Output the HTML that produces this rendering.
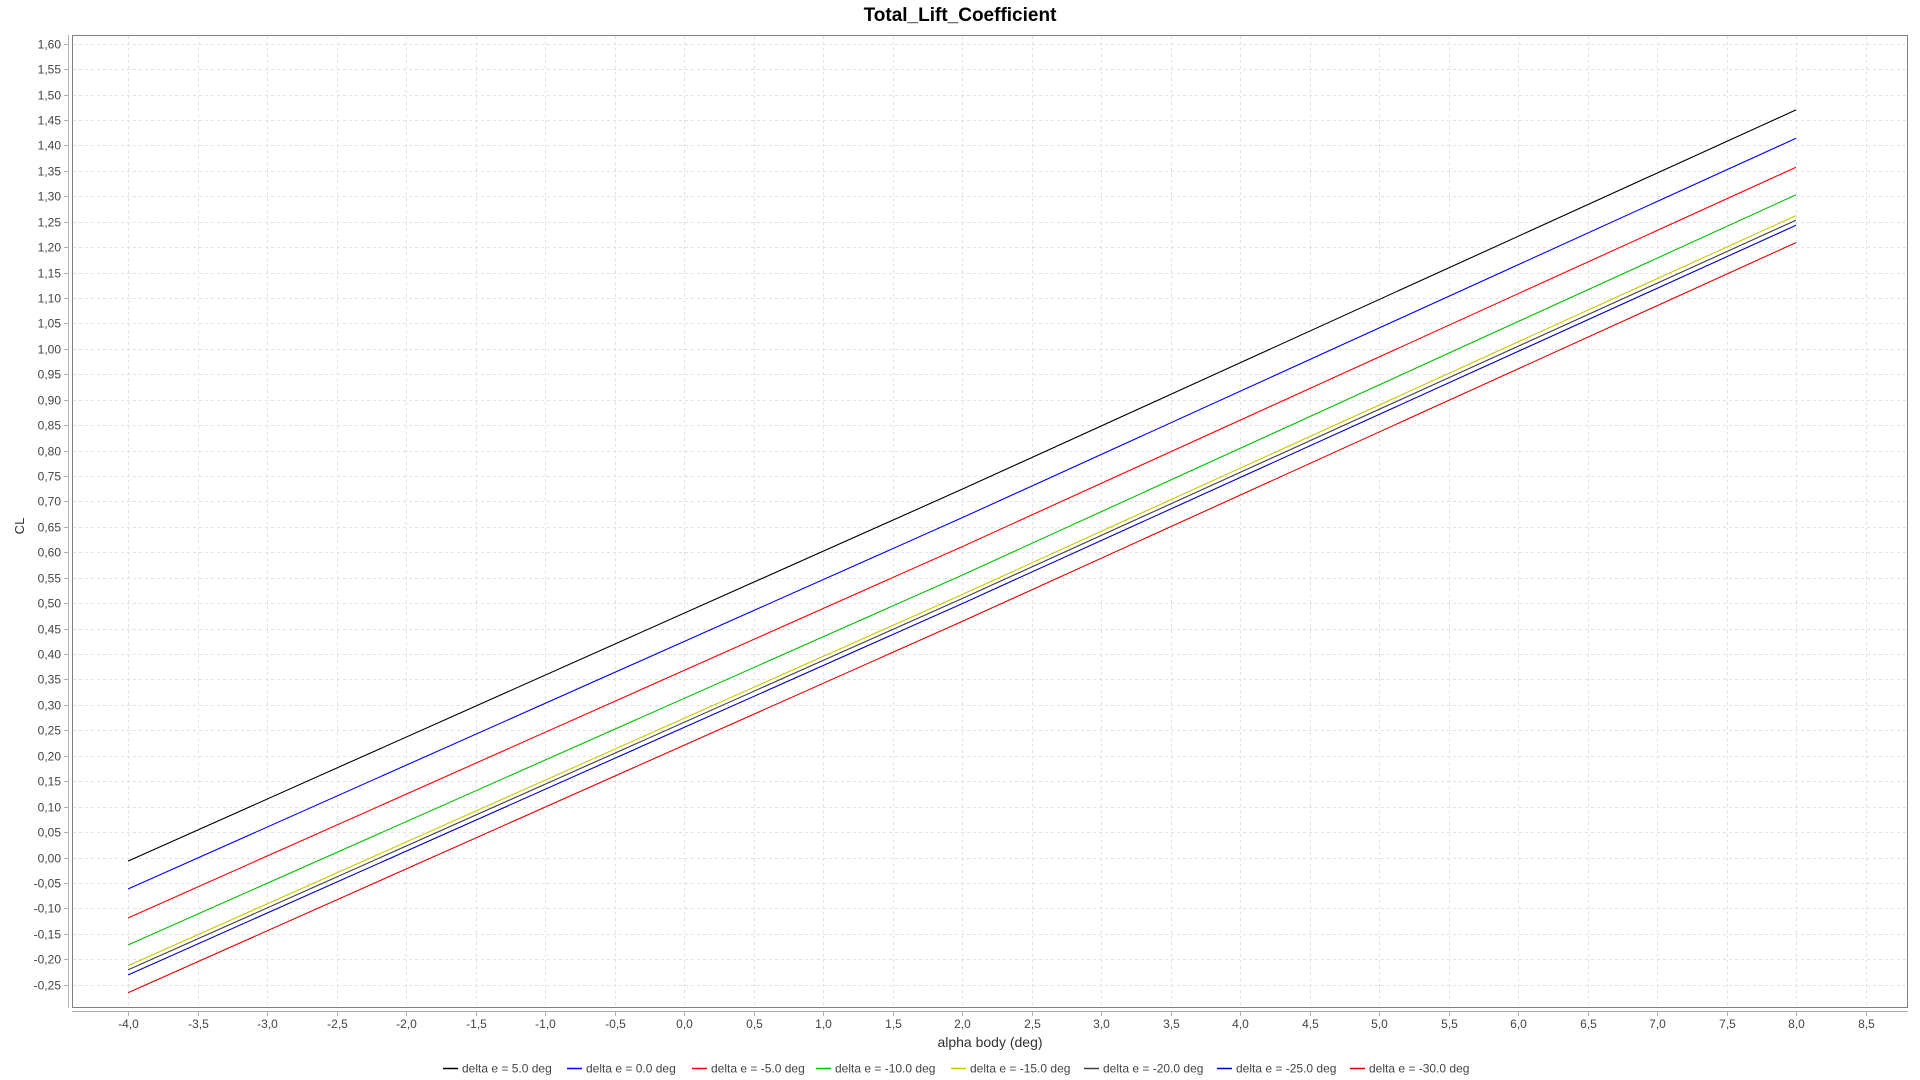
<!DOCTYPE html>
<html><head><meta charset="utf-8">
<style>
html,body{margin:0;padding:0;background:#fff;}
svg{display:block;font-family:"Liberation Sans","DejaVu Sans",sans-serif;}
</style></head>
<body>
<svg id="chart" width="1920" height="1080" viewBox="0 0 1920 1080" xmlns="http://www.w3.org/2000/svg">
<rect width="1920" height="1080" fill="#fff"/>
<text x="960" y="21" text-anchor="middle" font-size="19" font-weight="bold" fill="#000">Total_Lift_Coefficient</text>
<g id="grid"></g>
<rect x="72.5" y="35.5" width="1835" height="972" fill="none" stroke="#808080" stroke-width="1"/>
<line x1="68.5" y1="35" x2="68.5" y2="1008" stroke="#b0b0b0"/>
<line x1="72" y1="1011.5" x2="1908" y2="1011.5" stroke="#b0b0b0"/>
<g id="yticks"></g>
<g id="xticks"></g>
<g id="series"></g>
<text transform="translate(24,526) rotate(-90)" text-anchor="middle" font-size="13" fill="#333">CL</text>
<text x="990" y="1047" text-anchor="middle" font-size="14" fill="#333">alpha body (deg)</text>
<g id="legend"></g>
</svg>
<script>
const xTickValues = [-4,-3.5,-3,-2.5,-2,-1.5,-1,-0.5,0,0.5,1,1.5,2,2.5,3,3.5,4,4.5,5,5.5,6,6.5,7,7.5,8,8.5];
const yTickValues = [-0.25,-0.2,-0.15,-0.1,-0.05,0,0.05,0.1,0.15,0.2,0.25,0.3,0.35,0.4,0.45,0.5,0.55,0.6,0.65,0.7,0.75,0.8,0.85,0.9,0.95,1.0,1.05,1.1,1.15,1.2,1.25,1.3,1.35,1.4,1.45,1.5,1.55,1.6];
const alphaValues = [-4, 2, 8];
const seriesNames = ["delta e = 5.0 deg","delta e = 0.0 deg","delta e = -5.0 deg","delta e = -10.0 deg","delta e = -15.0 deg","delta e = -20.0 deg","delta e = -25.0 deg","delta e = -30.0 deg"];
const seriesColors = ["#000000","#0000ff","#ff0000","#00c000","#c8c800","#404040","#0000c0","#e00000"];
const clDe5 = [-0.007, 0.724, 1.470];
const clDe0 = [-0.062, 0.668, 1.414];
const clDeM5 = [-0.119, 0.611, 1.357];
const clDeM10 = [-0.172, 0.555, 1.303];
const clDeM15 = [-0.213, 0.517, 1.262];
const clDeM20 = [-0.221, 0.509, 1.253];
const clDeM25 = [-0.231, 0.499, 1.243];
const clDeM30 = [-0.266, 0.464, 1.209];
const seriesValues = [clDe5, clDe0, clDeM5, clDeM10, clDeM15, clDeM20, clDeM25, clDeM30];

const NS = "http://www.w3.org/2000/svg";
function xScale(v){ return 128 + (v + 4) * 139; }
function yScale(v){ return 857.5 - v * 508.6; }
function fmt(v, d){ return v.toFixed(d).replace('.', ','); }
function mk(tag, attrs, parent){ const e = document.createElementNS(NS, tag); for (const k in attrs) e.setAttribute(k, attrs[k]); parent.appendChild(e); return e; }

const grid = document.getElementById('grid');
const yt = document.getElementById('yticks');
const xt = document.getElementById('xticks');
yTickValues.forEach(v => {
  const y = Math.round(yScale(v)) + 0.5;
  const gl = mk('line', {x1:73, x2:1907, y1:y, y2:y, stroke:'#e2e2e2', 'stroke-dasharray':'3,3'}, grid);
  
  
  const tk = mk('line', {x1:64, x2:68, y1:y, y2:y, stroke:'#b0b0b0'}, yt);
  
  
  const t = mk('text', {x:61, y:y+4, 'text-anchor':'end', 'font-size':'12', fill:'#444'}, yt);
  
  
  t.textContent = fmt(v, 2);
});
xTickValues.forEach(v => {
  const x = Math.round(xScale(v)) + 0.5;
  const gl = mk('line', {x1:x, x2:x, y1:36, y2:1007, stroke:'#e2e2e2', 'stroke-dasharray':'3,3'}, grid);
  
  
  const tk = mk('line', {x1:x, x2:x, y1:1012, y2:1016, stroke:'#b0b0b0'}, xt);
  
  
  const t = mk('text', {x:x, y:1028, 'text-anchor':'middle', 'font-size':'12', fill:'#444'}, xt);
  
  
  t.textContent = fmt(v, 1);
});

const sg = document.getElementById('series');
seriesValues.forEach((vals, i) => {
  const pts = vals.map((v, j) => xScale(alphaValues[j]).toFixed(1) + ',' + yScale(v).toFixed(1)).join(' ');
  const p = mk('polyline', {points:pts, fill:'none', stroke:seriesColors[i], 'stroke-width':'1.1'}, sg);
  
  
});

const lg = document.getElementById('legend');
const lgX = [443, 567, 692, 816, 951, 1084, 1217, 1350];
seriesNames.forEach((n, i) => {
  const x = lgX[i];
  const l = mk('line', {x1:x, x2:x+15, y1:1068.5, y2:1068.5, stroke:seriesColors[i], 'stroke-width':'1.5'}, lg);
  
  
  const t = mk('text', {x:x+19, y:1072.5, 'font-size':'12', fill:'#444'}, lg);
  
  
  t.textContent = n;
});
</script>
</body></html>
